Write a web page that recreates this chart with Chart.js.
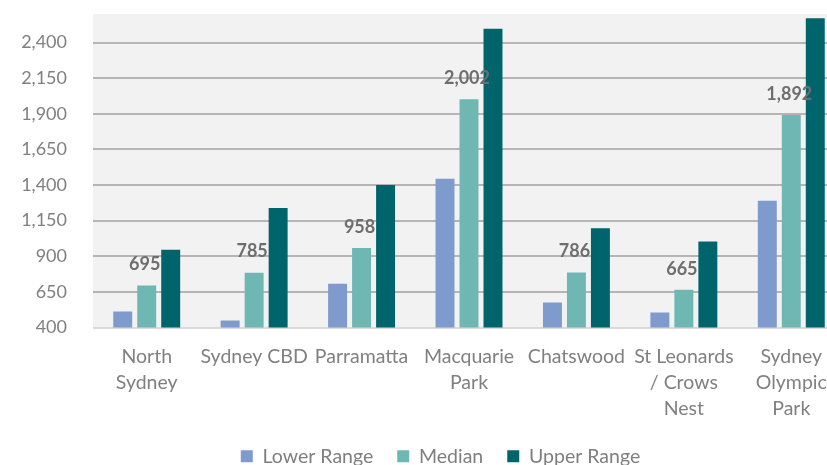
<!DOCTYPE html>
<html>
<head>
<meta charset="utf-8">
<script src="https://cdn.jsdelivr.net/npm/chart.js@4.4.1/dist/chart.umd.min.js"></script>
<style>
  html, body { margin: 0; padding: 0; background: #fff; overflow: hidden; }
  #wrap { width: 827px; height: 465px; overflow: hidden; }
</style>
</head>
<body>
<div id="wrap"><canvas id="myChart" width="880" height="476"></canvas></div>
<script>
var suburbs = [
  ['North', 'Sydney'],
  ['Sydney CBD'],
  ['Parramatta'],
  ['Macquarie', 'Park'],
  ['Chatswood'],
  ['St Leonards', '/ Crows', 'Nest'],
  ['Sydney', 'Olympic', 'Park']
];
var lowerRange = [512, 450, 707, 1444, 575, 505, 1290];
var median = [695, 785, 958, 2002, 786, 665, 1892];
var upperRange = [945, 1238, 1400, 2497, 1097, 1004, 2570];
var yTicks = [400, 650, 900, 1150, 1400, 1650, 1900, 2150, 2400];

var plotBackground = {
  id: 'plotBackground',
  beforeDraw: function(chart) {
    var a = chart.chartArea;
    var c = chart.ctx;
    c.save();
    c.fillStyle = '#f2f2f2';
    c.fillRect(a.left, a.top, a.right - a.left, a.bottom - a.top);
    c.restore();
  }
};

// legend is centred on the whole (wider) canvas in the original
var legendShift = {
  id: 'legendShift',
  afterLayout: function(chart) {
    chart.legend.left += 18;
    chart.legend.right += 18;
  }
};

var medianLabels = {
  id: 'medianLabels',
  afterDatasetsDraw: function(chart) {
    var c = chart.ctx;
    var meta = chart.getDatasetMeta(1);
    c.save();
    c.font = 'bold 18px Lato';
    c.fillStyle = '#6e6e6e';
    c.textAlign = 'center';
    c.textBaseline = 'middle';
    meta.data.forEach(function(bar, i) {
      c.fillText(median[i].toLocaleString('en-US'), bar.x - 2, bar.y - 21);
    });
    c.restore();
  }
};

var ctx = document.getElementById('myChart').getContext('2d');
var myChart = new Chart(ctx, {
  type: 'bar',
  plugins: [plotBackground, legendShift, medianLabels],
  data: {
    labels: suburbs,
    datasets: [{
      label: 'Lower Range',
      data: lowerRange,
      backgroundColor: '#7f9acc'
    }, {
      label: 'Median',
      data: median,
      backgroundColor: '#6fb7b3'
    }, {
      label: 'Upper Range',
      data: upperRange,
      backgroundColor: '#00646d'
    }]
  },
  options: {
    responsive: false,
    animation: false,
    datasets: {
      bar: {
        barPercentage: 0.79,
        categoryPercentage: 0.67
      }
    },
    layout: {
      padding: { top: 14, right: 35, left: 0, bottom: 0 }
    },
    plugins: {
      tooltip: { enabled: false },
      legend: {
        position: 'bottom',
        labels: {
          boxWidth: 12,
          boxHeight: 12,
          padding: 24,
          color: '#7f7f7f',
          font: { family: 'Lato', size: 19.5 }
        }
      }
    },
    scales: {
      x: {
        grid: { display: false },
        border: { display: false },
        ticks: {
          autoSkip: false,
          maxRotation: 0,
          padding: 8,
          color: '#808080',
          font: { family: 'Lato', size: 19.5, lineHeight: 1.33 }
        },
        afterFit: function(scale) { scale.height = 95; }
      },
      y: {
        min: 400,
        max: 2600,
        border: { display: false },
        grid: {
          drawTicks: true,
          tickLength: 26,
          tickColor: 'rgba(0,0,0,0)',
          lineWidth: 2,
          color: function(c) { return c.tick && c.tick.value === 400 ? '#d9d9d9' : '#b5b5b5'; }
        },
        afterBuildTicks: function(scale) {
          scale.ticks = yTicks.map(function(v) { return { value: v }; });
        },
        ticks: {
          padding: 0,
          color: '#808080',
          font: { family: 'Lato', size: 18 },
          callback: function(v) { return v.toLocaleString('en-US'); }
        },
        afterFit: function(scale) { scale.width = 93; }
      }
    }
  }
});
</script>
</body>
</html>
